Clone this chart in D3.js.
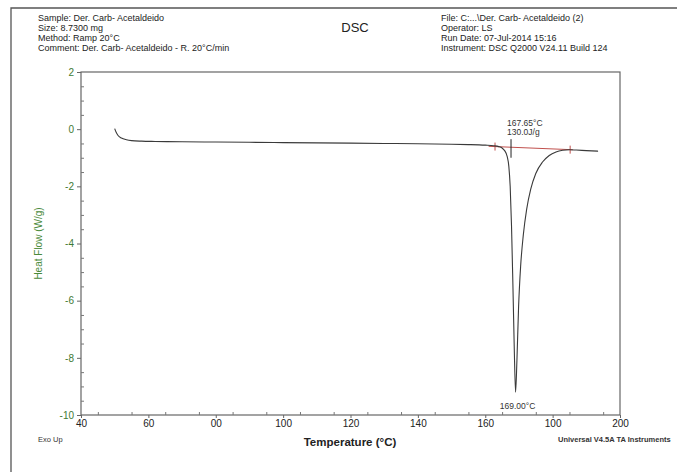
<!DOCTYPE html>
<html>
<head>
  <meta charset='utf-8'>
  <title>DSC</title>
  <script src="https://cdnjs.cloudflare.com/ajax/libs/d3/7.8.5/d3.min.js"></script>
  <style>
    body { margin: 0; background: #fff; }
    text { font-family: 'Liberation Sans', Arial, sans-serif; }
    .hdr { font-size: 9px; fill: #222; }
  </style>
</head>
<body>
  <svg width="677" height="472" id="chart"></svg>
  <script>
    // curve
    const temps = [50, 50.4, 51, 52, 53.5, 55, 58, 62, 70, 80, 90, 100, 110, 120, 130, 140, 150, 155, 160, 162.5,
      164, 165, 165.8, 166.5, 167, 167.4, 167.8, 168.2, 168.6, 169.0, 169.4, 169.9, 170.5, 171.3, 172.3,
      173.5, 175, 177, 179, 181, 183, 185, 187, 190, 193.5];
    const heatFlow = [0.02, -0.1, -0.22, -0.31, -0.37, -0.4, -0.42, -0.43, -0.44, -0.45, -0.46, -0.47, -0.48, -0.49, -0.5, -0.51, -0.53, -0.54, -0.56, -0.58,
      -0.61, -0.66, -0.76, -0.95, -1.3, -2.0, -3.4, -5.4, -7.6, -9.2, -8.1, -6.2, -4.8, -3.7, -2.8,
      -2.1, -1.55, -1.15, -0.92, -0.8, -0.74, -0.72, -0.73, -0.75, -0.77];

    const baseline = [[161, -0.6], [186, -0.72]];
    const baseTicks = [162.9, 185.2];
    const onset = { t: 167.65, label1: "167.65°C", label2: "130.0J/g" };
    const peak = { t: 169.0, hf: -9.2, label: "169.00°C" };

    const xTicks = [40, 60, 80, 100, 120, 140, 160, 180, 200];
    const xTickLabels = ["40", "60", "00", "100", "120", "140", "160", "100", "200"];
    const yTicks = [2, 0, -2, -4, -6, -8, -10];

    const headerLeft = ["Sample: Der.  Carb- Acetaldeido", "Size:  8.7300 mg", "Method: Ramp 20°C",
      "Comment: Der.  Carb- Acetaldeido  - R. 20°C/min"];
    const headerRight = ["File: C:...\\Der.  Carb- Acetaldeido (2)", "Operator: LS",
      "Run Date: 07-Jul-2014 15:16", "Instrument: DSC Q2000 V24.11 Build 124"];

    const svg = d3.select('#chart');
    const pL = 81, pR = 620, pT = 72, pB = 415;

    const x = d3.scaleLinear().domain([40, 200]).range([pL, pR]);
    const y = d3.scaleLinear().domain([-10, 2]).range([pB, pT]);

    // outer frame
    svg.append('path')
      .attr('d', `M11,472 V8 H677`)
      .attr('fill', 'none').attr('stroke', '#555').attr('stroke-width', 1.3);

    // header
    headerLeft.forEach((s, i) => svg.append('text').classed('hdr', true)
      .attr('x', 38).attr('y', 21 + i * 10).text(s));
    headerRight.forEach((s, i) => svg.append('text').classed('hdr', true)
      .attr('x', 441).attr('y', 21 + i * 10).text(s));
    svg.append('text').attr('x', 355).attr('y', 32).attr('text-anchor', 'middle')
      .style('font-size', '13px').attr('fill', '#222').text('DSC');

    // plot frame
    svg.append('rect').attr('x', pL).attr('y', pT)
      .attr('width', pR - pL).attr('height', pB - pT)
      .attr('fill', 'none').attr('stroke', '#666').attr('stroke-width', 1.2);

    // axes
    const xAxis = svg.append('g').attr('transform', `translate(0,${pB})`)
      .call(d3.axisBottom(x).tickValues(xTicks).tickSize(3).tickFormat((d, i) => xTickLabels[i]));
    xAxis.select('.domain').remove();
    xAxis.selectAll('text').style('font-size', '10px').attr('fill', '#222').attr('dy', '0.6em');
    xAxis.selectAll('line').attr('stroke', '#666');
    svg.append('g').attr('transform', `translate(0,${pB})`)
      .call(d3.axisTop(x).tickValues(d3.range(45, 200, 10)).tickSize(3).tickFormat(''))
      .call(g => g.select('.domain').remove())
      .selectAll('line').attr('stroke', '#777');

    const yAxis = svg.append('g').attr('transform', `translate(${pL},0)`)
      .call(d3.axisLeft(y).tickValues(yTicks).tickSize(4).tickFormat(d => String(d)));
    yAxis.select('.domain').remove();
    yAxis.selectAll('text').style('font-size', '10px').attr('fill', '#3f7a33');
    yAxis.selectAll('line').attr('stroke', '#666');
    svg.append('g').attr('transform', `translate(${pL},0)`)
      .call(d3.axisRight(y).tickValues(d3.range(-9.5, 2, 0.5).filter(v => v % 2 !== 0)).tickSize(3).tickFormat(''))
      .call(g => g.select('.domain').remove())
      .selectAll('line').attr('stroke', '#777');

    // axis titles
    svg.append('text').attr('transform', `translate(42,${(pT + pB) / 2}) rotate(-90)`)
      .attr('text-anchor', 'middle').style('font-size', '10px').attr('fill', '#4a8a3a')
      .text('Heat Flow (W/g)');
    svg.append('text').attr('x', 350).attr('y', 446).attr('text-anchor', 'middle')
      .style('font-size', '11.5px').style('font-weight', 'bold').attr('fill', '#222')
      .text('Temperature (°C)');
    svg.append('text').attr('x', 38).attr('y', 442).style('font-size', '7.5px').attr('fill', '#333').text('Exo Up');
    svg.append('text').attr('x', 558).attr('y', 442).style('font-size', '7.5px').style('font-weight', 'bold')
      .attr('fill', '#333').text('Universal V4.5A TA Instruments');

    // red baseline and limits
    svg.append('line')
      .attr('x1', x(baseline[0][0])).attr('y1', y(baseline[0][1]))
      .attr('x2', x(baseline[1][0])).attr('y2', y(baseline[1][1]))
      .attr('stroke', '#c0504d').attr('stroke-width', 1);
    const bY = t => baseline[0][1] + (t - baseline[0][0]) * (baseline[1][1] - baseline[0][1]) / (baseline[1][0] - baseline[0][0]);
    baseTicks.forEach(t => svg.append('line')
      .attr('x1', x(t)).attr('x2', x(t)).attr('y1', y(bY(t)) - 4).attr('y2', y(bY(t)) + 4)
      .attr('stroke', '#c0504d').attr('stroke-width', 1));

    // curve
    const pts = temps.map((t, i) => [t, heatFlow[i]]);
    svg.append('path').datum(pts)
      .attr('d', d3.line().x(d => x(d[0])).y(d => y(d[1])).curve(d3.curveMonotoneX))
      .attr('fill', 'none').attr('stroke', '#3a3a3a').attr('stroke-width', 1.1);

    // onset marker
    svg.append('line').attr('x1', x(onset.t)).attr('x2', x(onset.t))
      .attr('y1', y(-0.35)).attr('y2', y(-1.0)).attr('stroke', '#222').attr('stroke-width', 1);
    svg.append('text').attr('x', x(onset.t) - 4).attr('y', 126).style('font-size', '8.5px').attr('fill', '#333').text(onset.label1);
    svg.append('text').attr('x', x(onset.t) - 4).attr('y', 135).style('font-size', '8.5px').attr('fill', '#333').text(onset.label2);

    // peak label
    svg.append('text').attr('x', x(peak.t) + 2).attr('y', 409).attr('text-anchor', 'middle')
      .style('font-size', '8.5px').attr('fill', '#333').text(peak.label);
  </script>
</body>
</html>
